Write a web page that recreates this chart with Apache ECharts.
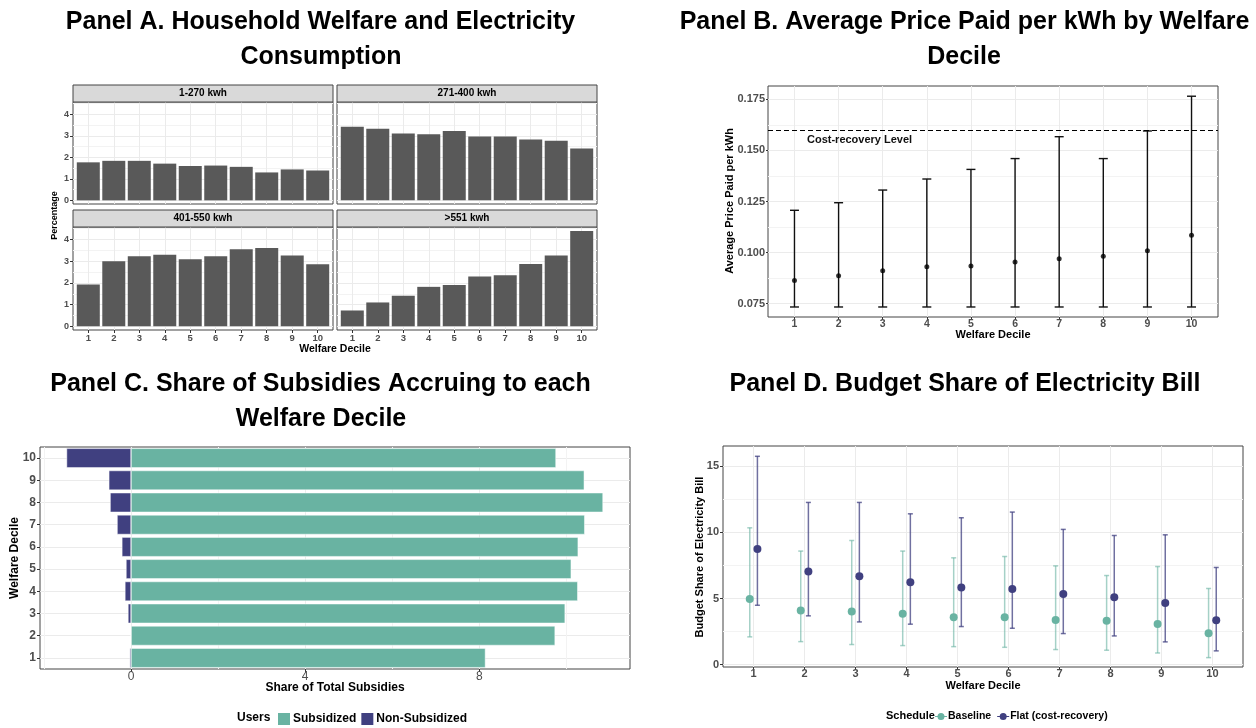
<!DOCTYPE html>
<html>
<head>
<meta charset="utf-8">
<title>Electricity subsidies by welfare decile</title>
<script src="https://cdn.jsdelivr.net/npm/echarts@6/dist/echarts.min.js"></script>
<style>
    html, body { margin: 0; padding: 0; background: #fff; }
    #chart { width: 1256px; height: 728px; }
</style>
</head>
<body>
<div id="chart"></div>
<script>
// ---- data ----
var deciles = [1, 2, 3, 4, 5, 6, 7, 8, 9, 10];
var bandNames = ['1-270 kwh', '271-400 kwh', '401-550 kwh', '>551 kwh'];

// Panel A: share of households (%) by consumption band
var pctBand1 = [1.77, 1.84, 1.84, 1.71, 1.60, 1.62, 1.56, 1.30, 1.44, 1.39];
var pctBand2 = [3.43, 3.34, 3.11, 3.08, 3.23, 2.97, 2.97, 2.83, 2.77, 2.42];
var pctBand3 = [1.93, 3.00, 3.23, 3.30, 3.09, 3.23, 3.55, 3.61, 3.27, 2.86];
var pctBand4 = [0.73, 1.10, 1.41, 1.82, 1.91, 2.30, 2.35, 2.87, 3.27, 4.39];

// Panel B: average price per kWh
var priceMean = [0.0864, 0.0887, 0.0911, 0.0931, 0.0934, 0.0954, 0.0970, 0.0982, 0.1009, 0.1085];
var priceLow  = [0.0734, 0.0734, 0.0734, 0.0734, 0.0734, 0.0734, 0.0734, 0.0734, 0.0734, 0.0734];
var priceHigh = [0.1207, 0.1244, 0.1306, 0.1360, 0.1407, 0.1460, 0.1567, 0.1460, 0.1595, 0.1765];
var costRecovery = 0.16;

// Panel C: share of total subsidies
var subsidized    = [8.14, 9.74, 9.97, 10.26, 10.11, 10.27, 10.42, 10.84, 10.41, 9.76];
var nonSubsidized = [-0.03, -0.01, -0.07, -0.14, -0.115, -0.21, -0.32, -0.48, -0.51, -1.48];

// Panel D: budget share of electricity bill
var baseMean = [4.97, 4.09, 4.02, 3.84, 3.59, 3.59, 3.38, 3.31, 3.08, 2.37];
var baseLow  = [2.10, 1.74, 1.52, 1.44, 1.36, 1.31, 1.14, 1.09, 0.88, 0.53];
var baseHigh = [10.35, 8.59, 9.39, 8.59, 8.08, 8.18, 7.47, 6.74, 7.42, 5.76];
var flatMean = [8.74, 7.05, 6.69, 6.24, 5.83, 5.73, 5.35, 5.10, 4.67, 3.36];
var flatLow  = [4.49, 3.69, 3.23, 3.06, 2.88, 2.75, 2.35, 2.17, 1.72, 1.04];
var flatHigh = [15.76, 12.27, 12.27, 11.41, 11.11, 11.54, 10.23, 9.77, 9.82, 7.35];

// tick values
var pctTicks = [0, 1, 2, 3, 4];
var pctMinor = [0.5, 1.5, 2.5, 3.5, 4.5];
var priceTicks = [0.075, 0.100, 0.125, 0.150, 0.175];
var priceMinor = [0.0875, 0.1125, 0.1375, 0.1625];
var shareTicks = [0, 4, 8];
var shareMinor = [-2, 2, 6, 10];
var budgetTicks = [0, 5, 10, 15];
var budgetMinor = [2.5, 7.5, 12.5];

// ---- styles ----
var FONT = 'Liberation Sans, Arial, sans-serif';
var GRID_C = '#ebebeb';
var MINOR_C = '#f3f3f3';
var TICK_C = '#4d4d4d';
var BORDER_C = '#444';
var TEAL = '#69b3a2';
var PURPLE = '#404080';

function valueAxis(gridIndex, min, max, ticks, o) {
    o = o || {};
    return {
        type: 'value', gridIndex: gridIndex, min: min, max: max,
        position: o.position,
        axisLine: {show: false, onZero: false},
        axisTick: {show: o.ticks !== false, customValues: ticks, length: o.tickLen || 3,
            lineStyle: {color: '#333', width: 1}},
        axisLabel: {show: o.labels !== false, customValues: ticks, color: TICK_C,
            fontFamily: FONT, fontWeight: o.weight || 'bold', fontSize: o.size || 10,
            margin: o.margin === undefined ? 4 : o.margin, formatter: o.formatter},
        splitLine: {show: true, lineStyle: {color: GRID_C, width: 1}}
    };
}
function minorAxis(gridIndex, min, max, ticks) {
    return {
        type: 'value', gridIndex: gridIndex, min: min, max: max,
        axisLine: {show: false, onZero: false},
        axisTick: {show: false, customValues: ticks},
        axisLabel: {show: false, customValues: ticks},
        splitLine: {show: true, lineStyle: {color: MINOR_C, width: 1}}
    };
}
function txt(text, x, y, size, o) {
    o = o || {};
    return {
        type: 'text', x: x, y: y, rotation: o.rot || 0, silent: true, z: 10,
        style: {text: text, fill: o.color || '#000', fontFamily: FONT,
            fontWeight: o.weight || 'bold', fontSize: size,
            align: o.align || 'center', verticalAlign: 'middle'}
    };
}
// error bar drawn with the axis scales
function errorBar(capHalf, color, lw) {
    return function (params, api) {
        var x = api.value(0);
        var lo = api.coord([x, api.value(1)]);
        var hi = api.coord([x, api.value(2)]);
        var st = {stroke: color, lineWidth: lw};
        return {type: 'group', children: [
            {type: 'line', shape: {x1: lo[0], y1: lo[1], x2: hi[0], y2: hi[1]}, style: st},
            {type: 'line', shape: {x1: lo[0] - capHalf, y1: lo[1], x2: lo[0] + capHalf, y2: lo[1]}, style: st},
            {type: 'line', shape: {x1: hi[0] - capHalf, y1: hi[1], x2: hi[0] + capHalf, y2: hi[1]}, style: st}
        ]};
    };
}

// ---- layout ----
var gridBox = {show: true, borderColor: BORDER_C, borderWidth: 1, backgroundColor: '#fff'};
var facetBoxes = [
    {left: 73, top: 102, width: 260, height: 102},
    {left: 337, top: 102, width: 260, height: 102},
    {left: 73, top: 227, width: 260, height: 103},
    {left: 337, top: 227, width: 260, height: 103}
];
var grids = facetBoxes.map(function (b) { return Object.assign({}, gridBox, b); });
grids.push(Object.assign({}, gridBox, {left: 768, top: 86, width: 450, height: 231}));  // 4: B
grids.push(Object.assign({}, gridBox, {left: 40, top: 447, width: 590, height: 222}));  // 5: C
grids.push(Object.assign({}, gridBox, {left: 723, top: 446, width: 520, height: 221})); // 6: D

var xAxes = [], yAxes = [], series = [], graphics = [];

// Panel A facets
var bands = [pctBand1, pctBand2, pctBand3, pctBand4];
bands.forEach(function (vals, i) {
    var bottomRow = i >= 2, leftCol = i % 2 === 0;
    xAxes.push(valueAxis(i, 0.4, 10.6, deciles,
        {ticks: bottomRow, labels: bottomRow, size: 9.5, margin: 3}));
    yAxes.push(valueAxis(i, -0.17, 4.58, pctTicks,
        {ticks: leftCol, labels: leftCol, size: 9, margin: 4}));
    series.push({
        type: 'bar', xAxisIndex: i, yAxisIndex: i, silent: true, barWidth: 23,
        itemStyle: {color: '#595959'},
        data: deciles.map(function (d, k) { return [d, vals[k]]; })
    });
    var b = facetBoxes[i];
    graphics.push({type: 'rect', silent: true, z: 5,
        shape: {x: b.left, y: b.top - 17, width: b.width, height: 17},
        style: {fill: '#d9d9d9', stroke: BORDER_C, lineWidth: 1}});
    graphics.push(txt(bandNames[i], b.left + b.width / 2, b.top - 8.5, 10));
});
// minor y lines for facets: yAxis 4..7
bands.forEach(function (v, i) { yAxes.push(minorAxis(i, -0.17, 4.58, pctMinor)); });

// Panel B: xAxis 4, yAxis 8 (+9 minor)
xAxes.push(valueAxis(4, 0.4, 10.6, deciles, {size: 10.5, margin: 1.5}));
yAxes.push(valueAxis(4, 0.0685, 0.1815, priceTicks, {size: 11, margin: 3, tickLen: 2,
    formatter: function (v) { return v.toFixed(3); }}));
yAxes.push(minorAxis(4, 0.0685, 0.1815, priceMinor));
series.push({
    type: 'custom', xAxisIndex: 4, yAxisIndex: 8, silent: true,
    renderItem: errorBar(4.5, '#111', 1.4), encode: {x: 0, y: [1, 2]},
    data: deciles.map(function (d, k) { return [d, priceLow[k], priceHigh[k]]; })
});
series.push({
    type: 'scatter', xAxisIndex: 4, yAxisIndex: 8, silent: true, symbolSize: 5,
    itemStyle: {color: '#000'},
    data: deciles.map(function (d, k) { return [d, priceMean[k]]; }),
    markLine: {
        silent: true, symbol: 'none', animation: false,
        lineStyle: {color: '#000', type: [5, 3], width: 1},
        label: {show: true, position: 'insideStartBottom', formatter: 'Cost-recovery Level',
            color: '#111', fontFamily: FONT, fontWeight: 'bold', fontSize: 11,
            padding: [0, 0, 0, 34]},
        data: [{yAxis: costRecovery}]
    }
});

// Panel C: xAxis 5 (+6 minor), yAxis 10 category (+11 center lines)
xAxes.push(valueAxis(5, -2.09, 11.46, shareTicks, {size: 12, weight: 'normal', margin: 2}));
xAxes.push(minorAxis(5, -2.09, 11.46, shareMinor));
yAxes.push({
    type: 'category', gridIndex: 5, data: deciles.map(String),
    axisLine: {show: false, onZero: false},
    axisTick: {show: true, alignWithLabel: true, length: 3, lineStyle: {color: '#333'}},
    axisLabel: {color: TICK_C, fontFamily: FONT, fontWeight: 'bold', fontSize: 12, margin: 4},
    splitLine: {show: false}
});
yAxes.push(minorAxis(5, 0.5, 10.5, deciles));
yAxes[11].splitLine.lineStyle.color = GRID_C;
series.push({
    name: 'Subsidized', type: 'bar', xAxisIndex: 5, yAxisIndex: 10, stack: 'users',
    silent: true, barCategoryGap: '12%',
    itemStyle: {color: TEAL, borderColor: '#fff', borderWidth: 0.5},
    data: subsidized
});
series.push({
    name: 'Non-Subsidized', type: 'bar', xAxisIndex: 5, yAxisIndex: 10, stack: 'users',
    silent: true, barCategoryGap: '12%',
    itemStyle: {color: PURPLE, borderColor: '#fff', borderWidth: 0.5},
    data: nonSubsidized
});

// Panel D: xAxis 7, yAxis 12 (+13 minor)
var dodge = 0.075;
xAxes.push(valueAxis(6, 0.4, 10.6, deciles, {size: 11, margin: 1}));
yAxes.push(valueAxis(6, -0.18, 16.54, budgetTicks, {size: 11, margin: 4}));
yAxes.push(minorAxis(6, -0.18, 16.54, budgetMinor));
series.push({
    type: 'custom', xAxisIndex: 7, yAxisIndex: 12, silent: true,
    renderItem: errorBar(2.5, 'rgba(105,179,162,0.6)', 1.5), encode: {x: 0, y: [1, 2]},
    data: deciles.map(function (d, k) { return [d - dodge, baseLow[k], baseHigh[k]]; })
});
series.push({
    type: 'custom', xAxisIndex: 7, yAxisIndex: 12, silent: true,
    renderItem: errorBar(2.5, 'rgba(64,64,128,0.75)', 1.5), encode: {x: 0, y: [1, 2]},
    data: deciles.map(function (d, k) { return [d + dodge, flatLow[k], flatHigh[k]]; })
});
series.push({
    name: 'Baseline', type: 'scatter', xAxisIndex: 7, yAxisIndex: 12, silent: true,
    symbolSize: 8, itemStyle: {color: TEAL, opacity: 1},
    data: deciles.map(function (d, k) { return [d - dodge, baseMean[k]]; })
});
series.push({
    name: 'Flat (cost-recovery)', type: 'scatter', xAxisIndex: 7, yAxisIndex: 12, silent: true,
    symbolSize: 8, itemStyle: {color: PURPLE, opacity: 1},
    data: deciles.map(function (d, k) { return [d + dodge, flatMean[k]]; })
});

// titles and axis titles
graphics.push(txt('Panel A. Household Welfare and Electricity', 320.5, 22.5, 25));
graphics.push(txt('Consumption', 321, 57.5, 25));
graphics.push(txt('Panel B. Average Price Paid per kWh by Welfare', 964.5, 22.5, 25));
graphics.push(txt('Decile', 964, 57.5, 25));
graphics.push(txt('Panel C. Share of Subsidies Accruing to each', 320.5, 384, 25));
graphics.push(txt('Welfare Decile', 321, 419, 25));
graphics.push(txt('Panel D. Budget Share of Electricity Bill', 965, 384, 25));

graphics.push(txt('Percentage', 55, 215.5, 9, {rot: Math.PI / 2}));
graphics.push(txt('Welfare Decile', 335, 349, 10.5));
graphics.push(txt('Average Price Paid per kWh', 729.5, 201, 11, {rot: Math.PI / 2}));
graphics.push(txt('Welfare Decile', 993, 335, 11));
graphics.push(txt('Welfare Decile', 15, 558, 12, {rot: Math.PI / 2}));
graphics.push(txt('Share of Total Subsidies', 335, 688, 12));
graphics.push(txt('Budget Share of Electricity Bill', 699.5, 557, 11, {rot: Math.PI / 2}));
graphics.push(txt('Welfare Decile', 983, 686, 11));
graphics.push(txt('Users', 237, 718, 12, {align: 'left'}));
graphics.push(txt('Schedule', 886, 716, 11, {align: 'left'}));

var pointRangeIcon = 'path://M0,4.5H2.6V5.5H0Z M9.4,4.5H12V5.5H9.4Z M9.5,5A3.5,3.5 0 1,1 2.5,5A3.5,3.5 0 1,1 9.5,5Z';

var chart = echarts.init(document.getElementById('chart'), null, {renderer: 'canvas'});
chart.setOption({
    animation: false,
    backgroundColor: '#fff',
    textStyle: {fontFamily: FONT},
    grid: grids,
    xAxis: xAxes,
    yAxis: yAxes,
    legend: [
        {
            data: ['Subsidized', 'Non-Subsidized'], left: 276, top: 711, padding: 0,
            icon: 'rect', itemWidth: 14, itemHeight: 14, itemGap: 3,
            selectedMode: false,
            textStyle: {fontFamily: FONT, fontWeight: 'bold', fontSize: 12, color: '#000', padding: [0, 0, 0, -3]}
        },
        {
            data: [{name: 'Baseline', icon: pointRangeIcon}, {name: 'Flat (cost-recovery)', icon: pointRangeIcon}],
            left: 935, top: 711, padding: 0, itemWidth: 12, itemHeight: 10, itemGap: 6,
            selectedMode: false,
            textStyle: {fontFamily: FONT, fontWeight: 'bold', fontSize: 10.5, color: '#000', padding: [0, 0, 0, -4]}
        }
    ],
    graphic: graphics,
    series: series
});
</script>
</body>
</html>
